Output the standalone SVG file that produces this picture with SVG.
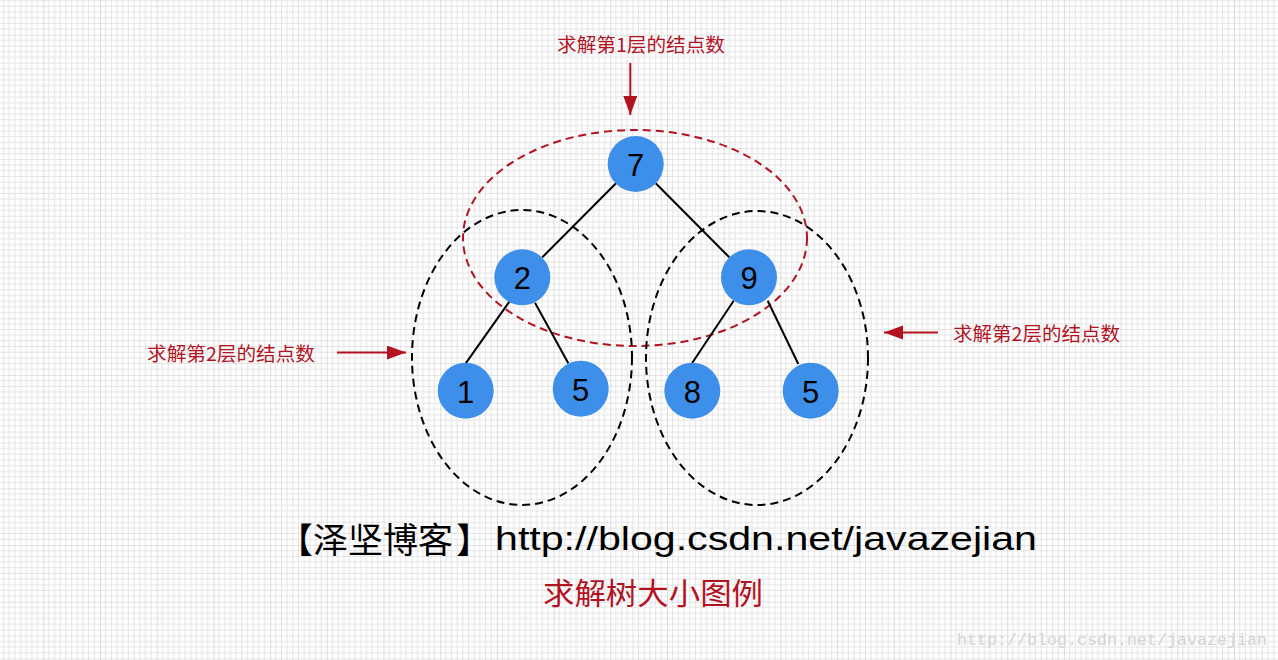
<svg xmlns="http://www.w3.org/2000/svg" width="1278" height="660" viewBox="0 0 1278 660">
  <style>
    .node circle { fill: #3D8FEA; }
    .node text { font-family: "Liberation Sans", Arial, sans-serif; font-size: 31px; fill: #000; text-anchor: middle; }
    .edge { stroke: #000; stroke-width: 2; fill: none; }
    .grp { fill: none; stroke: #000; stroke-width: 2; stroke-dasharray: 8 5; }
    .grp-red { fill: none; stroke: #B3121F; stroke-width: 2; stroke-dasharray: 8 5; }
    .arrow { stroke: #B3121F; stroke-width: 2; fill: none; }
    .lbl { font-family: "Noto Sans CJK SC", "Liberation Sans", sans-serif; font-size: 19px; fill: #B3121F; }
    .title { font-family: "Noto Sans CJK SC", sans-serif; font-size: 35px; fill: #000; }
    .url { font-family: "Liberation Sans", Arial, sans-serif; font-size: 34px; fill: #000; }
    .cap { font-family: "Noto Sans CJK SC", sans-serif; font-size: 30px; fill: #B3121F; }
    .wm { font-family: "Liberation Mono", "Courier New", monospace; font-size: 16.7px; fill: #d4d4d4; }
  </style>
  <defs>
    <pattern id="grid" patternUnits="userSpaceOnUse" x="-13.4" y="-22" width="56.7" height="56.7">
      <rect width="56.7" height="56.7" fill="#ffffff"/>
      <path d="M5.67 0V56.7M11.34 0V56.7M17.01 0V56.7M22.68 0V56.7M28.35 0V56.7M34.02 0V56.7M39.69 0V56.7M45.36 0V56.7M51.03 0V56.7M0 5.67H56.7M0 11.34H56.7M0 17.01H56.7M0 22.68H56.7M0 28.35H56.7M0 34.02H56.7M0 39.69H56.7M0 45.36H56.7M0 51.03H56.7" stroke="#e4e4e4" stroke-width="1"/>
      <path d="M0 0V56.7M0 0H56.7" stroke="#c9c9c9" stroke-width="1.2"/>
    </pattern>
    <marker id="ah" markerUnits="userSpaceOnUse" markerWidth="20" markerHeight="16" refX="19" refY="7" orient="auto">
      <path d="M0 0L19 7L0 14Z" fill="#B3121F"/>
    </marker>
  </defs>

  <rect width="1278" height="660" fill="url(#grid)"/>

  <g id="groups">
    <ellipse class="grp-red" cx="635" cy="238" rx="172" ry="108"/>
    <ellipse class="grp" cx="522" cy="357.5" rx="110" ry="147.5"/>
    <ellipse class="grp" cx="757" cy="358" rx="111" ry="147"/>
  </g>

  <g id="connectors">
    <line class="edge" x1="616" y1="183.3" x2="542.3" y2="257.3"/>
    <line class="edge" x1="655.7" y1="183.3" x2="729.3" y2="257.3"/>
    <line class="edge" x1="511" y1="299.3" x2="465.7" y2="363.3"/>
    <line class="edge" x1="535" y1="302.7" x2="568.3" y2="363.3"/>
    <line class="edge" x1="733.7" y1="300.7" x2="692" y2="363.3"/>
    <line class="edge" x1="767.7" y1="300.7" x2="798.3" y2="364"/>
    <line class="arrow" x1="630.3" y1="63" x2="630.3" y2="115" marker-end="url(#ah)"/>
    <line class="arrow" x1="337" y1="352.5" x2="406" y2="352.5" marker-end="url(#ah)"/>
    <line class="arrow" x1="938" y1="332.5" x2="884" y2="332.5" marker-end="url(#ah)"/>
  </g>

  <g id="node7" class="node"><circle cx="635.7" cy="164" r="28"/><text x="635.7" y="176">7</text></g>
  <g id="node2" class="node"><circle cx="522.3" cy="277.3" r="28"/><text x="522.3" y="289.3">2</text></g>
  <g id="node9" class="node"><circle cx="749" cy="277.3" r="28"/><text x="749" y="289.3">9</text></g>
  <g id="node1" class="node"><circle cx="465.7" cy="390.7" r="28"/><text x="465.7" y="402.7">1</text></g>
  <g id="node5a" class="node"><circle cx="580.7" cy="388.7" r="28"/><text x="580.7" y="400.7">5</text></g>
  <g id="node8" class="node"><circle cx="692.3" cy="390.7" r="28"/><text x="692.3" y="402.7">8</text></g>
  <g id="node5b" class="node"><circle cx="810.7" cy="390.7" r="28"/><text x="810.7" y="402.7">5</text></g>

  <g id="labels">
    <text class="lbl" x="557" y="51.5" textLength="168" lengthAdjust="spacingAndGlyphs">求解第1层的结点数</text>
    <text class="lbl" x="147" y="361" textLength="168" lengthAdjust="spacingAndGlyphs">求解第2层的结点数</text>
    <text class="lbl" x="953" y="341" textLength="167" lengthAdjust="spacingAndGlyphs">求解第2层的结点数</text>
    <text class="title" y="553"><tspan x="278">【</tspan><tspan x="313">泽坚博客</tspan><tspan x="456">】</tspan></text>
    <text class="url" x="495" y="550" textLength="542" lengthAdjust="spacingAndGlyphs">http://blog.csdn.net/javazejian</text>
    <text class="cap" x="543" y="604" textLength="220" lengthAdjust="spacingAndGlyphs">求解树大小图例</text>
    <text class="wm" x="957" y="645" textLength="310" lengthAdjust="spacingAndGlyphs">http://blog.csdn.net/javazejian</text>
  </g>
</svg>
